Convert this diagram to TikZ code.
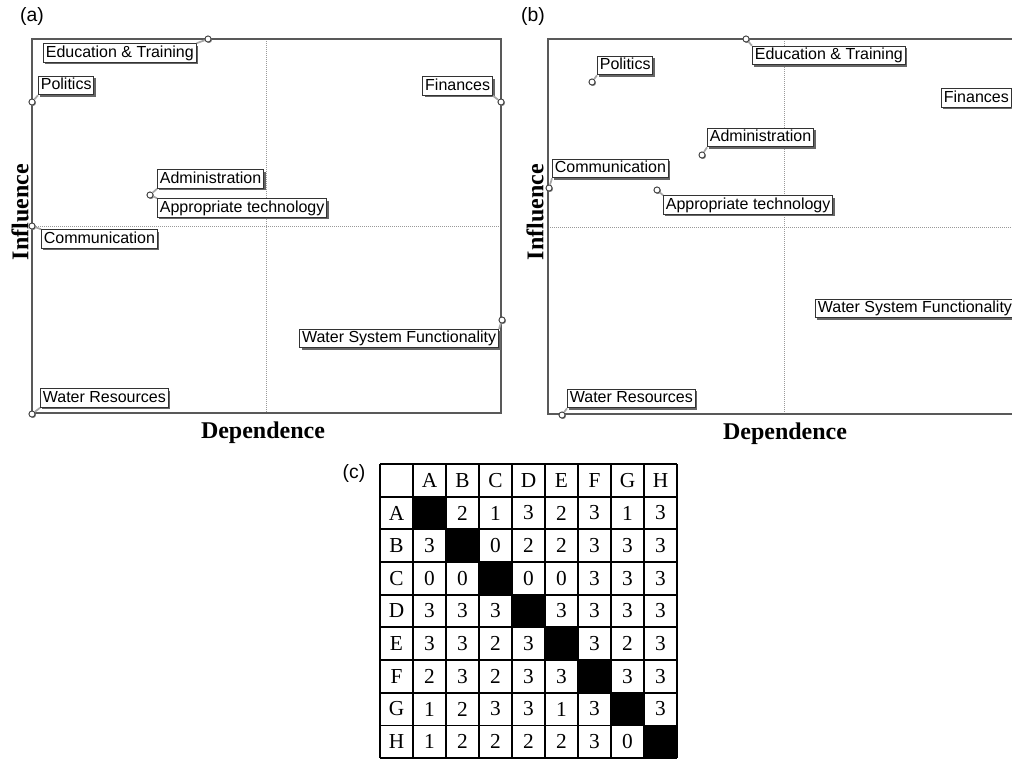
\documentclass[tikz,border=0pt]{standalone}
\usepackage{fontspec}
\setmainfont{Liberation Serif}
\setsansfont{Liberation Sans}
\usetikzlibrary{shadows}

\begin{document}
\begin{tikzpicture}[x=0.75pt,y=-0.75pt,
  frame/.style={draw=black!65, line width=1.1pt},
  midline/.style={draw=black!40, densely dotted, line width=0.5pt},
  var/.style={draw=black!80, fill=white, line width=0.7pt,
    font=\sffamily\fontsize{12}{13}\selectfont, inner xsep=1.8pt, inner ysep=0pt,
    minimum height=14pt, text height=9pt, text depth=2.6pt, anchor=west,
    drop shadow={shadow xshift=1.5pt, shadow yshift=-1.5pt, fill=black!60, opacity=1}},
  pt/.style={circle, draw=black!75, fill=white, line width=0.7pt, inner sep=0pt,
    minimum size=4.6pt,
    drop shadow={shadow xshift=0.7pt, shadow yshift=-0.7pt, fill=black!50, opacity=1}},
  lead/.style={draw=black!35, line width=1.3pt},
  axis/.style={font=\bfseries\fontsize{18}{20}\selectfont},
  panel/.style={font=\sffamily\fontsize{14.5}{16}\selectfont},
  cell/.style={font=\fontsize{16}{17}\selectfont, inner sep=0pt},
  grid/.style={draw=black, line width=1.3pt},
]
\useasboundingbox (0,0) rectangle (1012,760);
\clip (0,0) rectangle (1012,760);

% ---------------- panel (a) ----------------
\node[panel] (labA) at (32,16) {(a)};
\draw[midline] (266,39) -- (266,413);
\draw[midline] (32,226) -- (501,226);
\draw[frame] (32,39) rectangle (501,413);
\node[axis, rotate=90] (infA) at (20,212) {Influence};
\node[axis] (depA) at (263,433) {Dependence};

\node[var] (eduA) at (43,53)    {Education \& Training};
\node[var] (polA) at (38,85.5)  {Politics};
\node[var] (admA) at (157,179)  {Administration};
\node[var] (appA) at (157,208)  {Appropriate technology};
\node[var] (comA) at (41,239)   {Communication};
\node[var, anchor=east] (finA) at (493,86) {Finances};
\node[var, anchor=east] (wsfA) at (499,338.5) {Water System Functionality};
\node[var] (wrsA) at (40,398)   {Water Resources};

\node[pt] (pEduA) at (208,39)  {};
\node[pt] (pPolA) at (32,102)  {};
\node[pt] (pAdmA) at (150,195) {};
\node[pt] (pComA) at (32,226)  {};
\node[pt] (pFinA) at (501,102) {};
\node[pt] (pWsfA) at (502,320) {};
\node[pt] (pWrsA) at (32,414)  {};

\draw[lead] (pEduA) -- (eduA.north east);
\draw[lead] (pPolA) -- (polA.south west);
\draw[lead] (pAdmA) -- (admA.south west);
\draw[lead] (pAdmA) -- (appA.north west);
\draw[lead] (pComA) -- (comA.north west);
\draw[lead] (pFinA) -- (finA.south east);
\draw[lead] (pWsfA) -- (wsfA.north east);
\draw[lead] (pWrsA) -- (wrsA.south west);

% ---------------- panel (b) ----------------
\node[panel] (labB) at (533,16) {(b)};
\draw[midline] (784,39) -- (784,414);
\draw[midline] (548,227) -- (1020,227);
\draw[frame] (548,39) rectangle (1020,414);
\node[axis, rotate=90] (infB) at (535,212) {Influence};
\node[axis] (depB) at (785,434) {Dependence};

\node[var] (eduB) at (752,55.5)  {Education \& Training};
\node[var] (polB) at (597,65.5)  {Politics};
\node[var] (admB) at (707,137.5) {Administration};
\node[var] (comB) at (552,168.5) {Communication};
\node[var] (appB) at (663,205)   {Appropriate technology};
\node[var] (finB) at (941,98)    {Finances};
\node[var] (wsfB) at (815,308.5) {Water System Functionality};
\node[var] (wrsB) at (567,398.5) {Water Resources};

\node[pt] (pEduB) at (746,39)  {};
\node[pt] (pPolB) at (592,82)  {};
\node[pt] (pAdmB) at (702,155) {};
\node[pt] (pComB) at (549,188) {};
\node[pt] (pAppB) at (657,190) {};
\node[pt] (pFinB) at (1024,112) {};
\node[pt] (pWsfB) at (1024,292) {};
\node[pt] (pWrsB) at (562,415) {};

\draw[lead] (pEduB) -- (eduB.north west);
\draw[lead] (pPolB) -- (polB.south west);
\draw[lead] (pAdmB) -- (admB.south west);
\draw[lead] (pComB) -- (comB.south west);
\draw[lead] (pAppB) -- (appB.north west);
\draw[lead] (pFinB) -- (finB.south east);
\draw[lead] (pWsfB) -- (wsfB.north east);
\draw[lead] (pWrsB) -- (wrsB.south west);

% ---------------- panel (c): cross-impact matrix ----------------
\node[panel] (labC) at (354,473) {(c)};
\def\cw{33}
\def\ch{32.67}
% diagonal cells
\foreach \i in {1,...,8}
  \fill[black] (380+\cw*\i,464+\ch*\i) rectangle ++(\cw,\ch);
% grid lines
\foreach \i in {0,...,9} {
  \draw[grid] (380+\cw*\i,464) -- (380+\cw*\i,464+9*\ch);
  \draw[grid] (380,464+\ch*\i) -- (380+9*\cw,464+\ch*\i);
}
% headers
\foreach \L [count=\k] in {A,B,C,D,E,F,G,H} {
  \node[cell] (col\L) at (380+\cw*\k+\cw/2,464+\ch/2) {\L};
  \node[cell] (row\L) at (380+\cw/2,464+\ch*\k+\ch/2) {\L};
}
% entries (diagonal placeholders are skipped)
\foreach \row [count=\r] in {
  {0,2,1,3,2,3,1,3},
  {3,0,0,2,2,3,3,3},
  {0,0,0,0,0,3,3,3},
  {3,3,3,0,3,3,3,3},
  {3,3,2,3,0,3,2,3},
  {2,3,2,3,3,0,3,3},
  {1,2,3,3,1,3,0,3},
  {1,2,2,2,2,3,0,0}} {
  \foreach \v [count=\c] in \row {
    \ifnum\c=\r\else
      \node[cell] (cell-\r-\c) at (380+\cw*\c+\cw/2,464+\ch*\r+\ch/2) {\v};
    \fi
  }
}
\end{tikzpicture}
\end{document}
